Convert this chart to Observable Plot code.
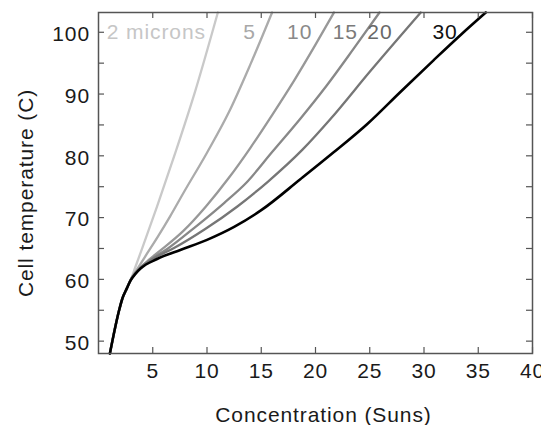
<!DOCTYPE html>
<html><head><meta charset="utf-8">
<script src="https://cdn.jsdelivr.net/npm/d3@7"></script>
<script src="https://cdn.jsdelivr.net/npm/@observablehq/plot@0.6"></script>
<style>
body{margin:0;background:#fff}
svg text{letter-spacing:0.9px}
</style>
</head><body><div id="chart"></div>
<script>
// Series: cell thickness
const series = ["2 microns", "5", "10", "15", "20", "30"];

// Concentration (Suns) and cell temperature (C) for each thickness
const conc2  = [1.05, 1.9, 2.2, 2.6, 2.9, 3.4, 4.0, 5.4, 7.1, 8.9, 11.0];
const temp2  = [48, 55, 56.9, 58.5, 59.6, 62.0, 64.9, 71.8, 80.6, 90.4, 103.2];

const conc5  = [1.05, 1.9, 2.2, 2.6, 2.95, 3.4, 4.3, 5.5, 6.6, 7.8, 10, 12, 14, 16];
const temp5  = [48, 55, 56.9, 58.5, 59.95, 61.2, 63.7, 67.0, 70.2, 73.9, 80.5, 87.0, 94.8, 103.2];

const conc10 = [1.05, 1.9, 2.2, 2.6, 2.95, 3.4, 3.9, 4.6, 5.8, 7.8, 9.9, 12, 14, 16, 18, 20, 21.7];
const temp10 = [48, 55, 56.9, 58.5, 59.9, 61.1, 62.0, 63.1, 64.8, 67.8, 71.8, 76.4, 81.3, 86.6, 92.1, 98.0, 103.2];

const conc15 = [1.05, 1.9, 2.2, 2.6, 2.95, 3.4, 3.9, 4.8, 6.4, 8.8, 11.6, 13.6, 16, 18.6, 21, 23.5, 25.9];
const temp15 = [48, 55, 56.9, 58.5, 59.85, 61.0, 61.95, 63.2, 65.0, 68.3, 72.4, 75.6, 80.6, 86.0, 91.3, 97.3, 103.2];

const conc20 = [1.05, 1.9, 2.2, 2.6, 2.95, 3.4, 3.9, 5.0, 7.0, 9.8, 12.8, 15.6, 18.8, 21.4, 25, 29.7];
const temp20 = [48, 55, 56.9, 58.5, 59.85, 60.95, 61.9, 63.3, 65.1, 68.1, 71.8, 75.8, 81.0, 86.0, 93.6, 103.2];

const conc30 = [1.05, 1.9, 2.2, 2.6, 2.95, 3.4, 3.9, 5.4, 7.6, 10, 12.5, 15, 18.6, 21.7, 24.8, 27.8, 30.9, 33.4, 35.7];
const temp30 = [48, 55, 56.9, 58.5, 59.8, 60.9, 61.8, 63.3, 64.8, 66.4, 68.5, 71.2, 76.2, 80.6, 85.2, 90.3, 95.5, 99.6, 103.2];

// Where each series name is written (data units)
const labelX = [9.9, 14.5, 19.7, 23.9, 27.1, 33.1];
const labelY = [98.83, 98.83, 98.83, 98.83, 98.83, 98.83];

// Axis ticks
const xTicks = [5, 10, 15, 20, 25, 30, 35, 40];
const yTicks = [50, 55, 60, 65, 70, 75, 80, 85, 90, 95, 100];
const yTickLabels = [50, 60, 70, 80, 90, 100];

// Styles
const lineColors  = ["#c9c9c9", "#ababab", "#989898", "#888888", "#767676", "#000000"];
const labelColors = ["#c6c6c6", "#a8a8a8", "#8a8a8a", "#7a7a7a", "#686868", "#111111"];

const concs = [conc2, conc5, conc10, conc15, conc20, conc30];
const temps = [temp2, temp5, temp10, temp15, temp20, temp30];
const rows = series.flatMap((s, i) => concs[i].map((c, j) => ({series: s, x: c, y: temps[i][j]})));

const W = 541, H = 425, mL = 98, mR = 9, mT = 12, mB = 72;
const plotW = W - mL - mR, plotH = H - mT - mB;
const tickLen = 6;
const frameColor = "#555";
const textColor = "#1a1a1a";
const fs = 21;

const labelMarks = series.map((s, i) =>
  Plot.text([{name: s, x: labelX[i], y: labelY[i]}], {
    x: "x", y: "y", text: "name", textAnchor: "end", lineAnchor: "bottom",
    fontSize: fs, fill: labelColors[i]
  })
);

const chart = Plot.plot({
  width: W, height: H,
  marginLeft: mL, marginRight: mR, marginTop: mT, marginBottom: mB,
  style: {fontFamily: "'Liberation Sans', Arial, sans-serif", background: "#fff"},
  x: {domain: [0, 40], axis: null},
  y: {domain: [48, 103.2], axis: null},
  color: {domain: series, range: lineColors},
  marks: [
    Plot.line(rows.filter(d => d.series !== "30"), {x: "x", y: "y", z: "series", stroke: "series", strokeWidth: 2.3, curve: "monotone-x"}),
    Plot.line(rows.filter(d => d.series === "30"), {x: "x", y: "y", stroke: "series", strokeWidth: 2.6, curve: "monotone-x"}),
    ...labelMarks,
    Plot.tickX(xTicks, {x: d => d, insetTop: plotH - tickLen, stroke: frameColor, strokeWidth: 1.2}),
    Plot.tickX(xTicks, {x: d => d, insetBottom: plotH - tickLen, stroke: frameColor, strokeWidth: 1.2}),
    Plot.tickY(yTicks, {y: d => d, insetRight: plotW - tickLen, stroke: frameColor, strokeWidth: 1.2}),
    Plot.tickY(yTicks, {y: d => d, insetLeft: plotW - tickLen, stroke: frameColor, strokeWidth: 1.2}),
    Plot.frame({stroke: frameColor, strokeWidth: 1.5}),
    // tick labels
    Plot.text(xTicks, {x: d => d, text: d => String(d), frameAnchor: "bottom", textAnchor: "middle", lineAnchor: "top", dy: 10, fontSize: fs, fill: textColor}),
    Plot.text(yTickLabels, {y: d => d, text: d => String(d), frameAnchor: "left", textAnchor: "end", lineAnchor: "middle", dx: -8.5, dy: 2, fontSize: fs, fill: textColor}),
    // axis titles
    Plot.text(["Concentration (Suns)"], {text: d => d, frameAnchor: "bottom", textAnchor: "middle", lineAnchor: "bottom", dx: 8, dy: 68.4, fontSize: fs, fill: textColor}),
    Plot.text(["Cell temperature (C)"], {text: d => d, frameAnchor: "left", textAnchor: "middle", rotate: -90, lineAnchor: "bottom", dx: -66, dy: 10, fontSize: fs, fill: textColor})
  ]
});
document.getElementById("chart").appendChild(chart);
</script>
</body></html>
